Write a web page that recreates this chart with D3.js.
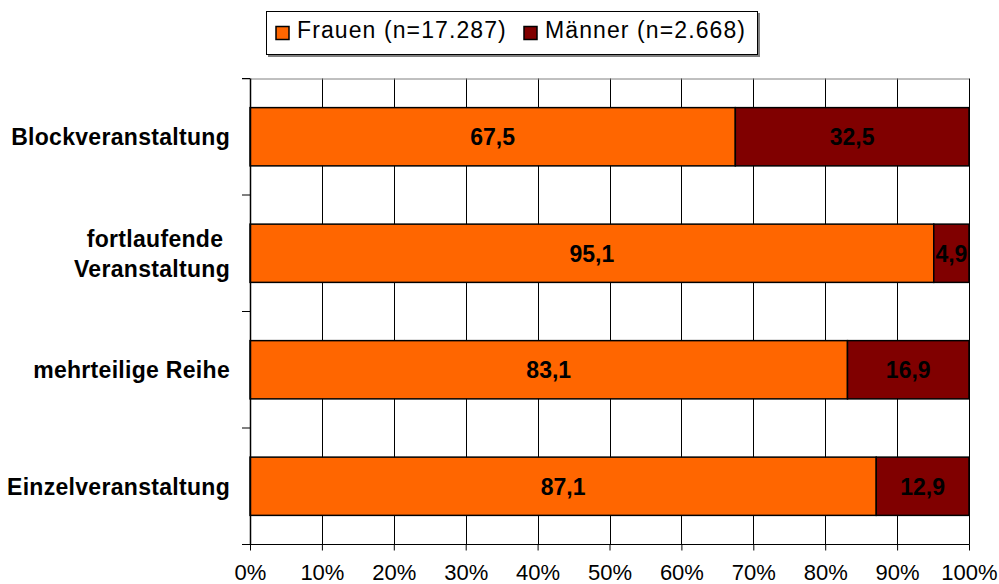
<!DOCTYPE html>
<html>
<head>
<meta charset="utf-8">
<script src="https://cdn.jsdelivr.net/npm/d3@7"></script>
<style>
  body { margin: 0; background: #fff; }
  svg { font-family: "Liberation Sans", Arial, sans-serif; }
</style>
</head>
<body>
<div id="chart"></div>
<script>
// Data
var categories = ["Blockveranstaltung", "fortlaufende Veranstaltung", "mehrteilige Reihe", "Einzelveranstaltung"];
var frauen = [67.5, 95.1, 83.1, 87.1];
var maenner = [32.5, 4.9, 16.9, 12.9];
var seriesNames = ["Frauen (n=17.287)", "Männer (n=2.668)"];
var seriesColors = ["#FF6600", "#800000"];
var xTicks = [0, 10, 20, 30, 40, 50, 60, 70, 80, 90, 100];

var svgWidth = 999;
var svgHeight = 584;

var margin = { top: 78.5, right: 30, bottom: 40, left: 250 };
var width = 969 - margin.left;
var height = 544.5 - margin.top;

var svg = d3.select("#chart")
  .append("svg")
  .attr("width", svgWidth)
  .attr("height", svgHeight);

var chartGroup = svg.append("g")
  .attr("transform", `translate(${margin.left}, ${margin.top})`);

// Scales
var xScale = d3.scaleLinear().domain([0, 100]).range([0, width]);
var yScale = d3.scaleBand().domain(categories).range([0, height]).paddingInner(0.5).paddingOuter(0.25);
var bandStep = yScale.step();

// Gridlines
chartGroup.selectAll(".grid")
  .data(xTicks.slice(1))
  .enter()
  .append("line")
  .attr("x1", d => Math.round(xScale(d)) + 0.5)
  .attr("x2", d => Math.round(xScale(d)) + 0.5)
  .attr("y1", 0)
  .attr("y2", height)
  .attr("stroke", "#000")
  .attr("stroke-width", 1);

// top border line (grey)
chartGroup.append("line")
  .attr("x1", -8).attr("x2", width)
  .attr("y1", 0.5).attr("y2", 0.5)
  .attr("stroke", "#808080");

// Stacked bars
var rows = categories.map((c, i) => ({ cat: c, f: frauen[i], m: maenner[i] }));

chartGroup.selectAll(".barF")
  .data(rows)
  .enter()
  .append("rect")
  .attr("x", xScale(0))
  .attr("y", d => yScale(d.cat))
  .attr("width", d => xScale(d.f))
  .attr("height", yScale.bandwidth())
  .attr("fill", seriesColors[0])
  .attr("stroke", "#000")
  .attr("stroke-width", 1.5);

chartGroup.selectAll(".barM")
  .data(rows)
  .enter()
  .append("rect")
  .attr("x", d => xScale(d.f))
  .attr("y", d => yScale(d.cat))
  .attr("width", d => xScale(d.m))
  .attr("height", yScale.bandwidth())
  .attr("fill", seriesColors[1])
  .attr("stroke", "#000")
  .attr("stroke-width", 1.5);

// Value labels
chartGroup.selectAll(".labF")
  .data(rows)
  .enter()
  .append("text")
  .attr("x", d => xScale(d.f / 2))
  .attr("y", d => yScale(d.cat) + yScale.bandwidth() / 2)
  .attr("dy", "0.36em")
  .attr("text-anchor", "middle")
  .attr("font-weight", "bold")
  .attr("font-size", "23px")
  .text(d => d.f.toFixed(1).replace(".", ","));

chartGroup.selectAll(".labM")
  .data(rows)
  .enter()
  .append("text")
  .attr("x", d => xScale(d.f + d.m / 2))
  .attr("y", d => yScale(d.cat) + yScale.bandwidth() / 2)
  .attr("dy", "0.36em")
  .attr("text-anchor", "middle")
  .attr("font-weight", "bold")
  .attr("font-size", "23px")
  .text(d => d.m.toFixed(1).replace(".", ","));

// Axes
var bottomAxis = d3.axisBottom(xScale)
  .tickValues(xTicks)
  .tickSize(6)
  .tickSizeOuter(0)
  .tickFormat(d => d + "%");

var xAxis = chartGroup.append("g")
  .attr("transform", `translate(0, ${height})`)
  .call(bottomAxis);
xAxis.select(".domain").remove();
xAxis.append("line")
  .attr("x1", -8).attr("x2", width + 0.5)
  .attr("y1", 0).attr("y2", 0)
  .attr("stroke", "#000");
xAxis.selectAll("text")
  .attr("font-size", "22px")
  .attr("font-family", "Liberation Sans, Arial, sans-serif")
  .attr("fill", "#000")
  .attr("dy", "0")
  .attr("y", 35);

// Left axis line + ticks at band boundaries
chartGroup.append("line")
  .attr("x1", 0.5).attr("x2", 0.5)
  .attr("y1", 0).attr("y2", height)
  .attr("stroke", "#000").attr("stroke-width", 1.5);

chartGroup.selectAll(".ytick")
  .data(d3.range(categories.length + 1))
  .enter()
  .append("line")
  .attr("x1", -8).attr("x2", 0)
  .attr("y1", i => i * bandStep)
  .attr("y2", i => i * bandStep)
  .attr("stroke", "#000");

// Category labels
var catLines = {
  "fortlaufende Veranstaltung": ["fortlaufende ", "Veranstaltung"]
};
categories.forEach(function(c) {
  var lines = catLines[c] || [c];
  var cy = yScale(c) + yScale.bandwidth() / 2;
  var lh = 30;
  var t = chartGroup.append("text")
    .attr("text-anchor", "end")
    .attr("font-weight", "bold")
    .attr("font-size", "23px")
    .attr("letter-spacing", "0.3px")
    .attr("fill", "#000");
  lines.forEach(function(l, j) {
    t.append("tspan")
      .attr("x", -20)
      .attr("y", cy + (j - (lines.length - 1) / 2) * lh)
      .attr("dy", "0.36em")
      .text(l);
  });
});

// Legend
var legend = svg.append("g");
legend.append("rect")
  .attr("x", 268).attr("y", 13)
  .attr("width", 492).attr("height", 44)
  .attr("fill", "#808080");
legend.append("rect")
  .attr("x", 266.5).attr("y", 11.5)
  .attr("width", 491).attr("height", 43)
  .attr("fill", "#fff")
  .attr("stroke", "#000");

var legendX = [276, 524];
seriesNames.forEach(function(name, i) {
  legend.append("rect")
    .attr("x", legendX[i]).attr("y", 26.5)
    .attr("width", 13).attr("height", 13)
    .attr("fill", seriesColors[i])
    .attr("stroke", "#000")
    .attr("stroke-width", 1.5);
  legend.append("text")
    .attr("x", legendX[i] + 21)
    .attr("y", 38)
    .attr("font-size", "23px")
    .attr("letter-spacing", "1.1px")
    .attr("fill", "#000")
    .text(name);
});
</script>
</body>
</html>
